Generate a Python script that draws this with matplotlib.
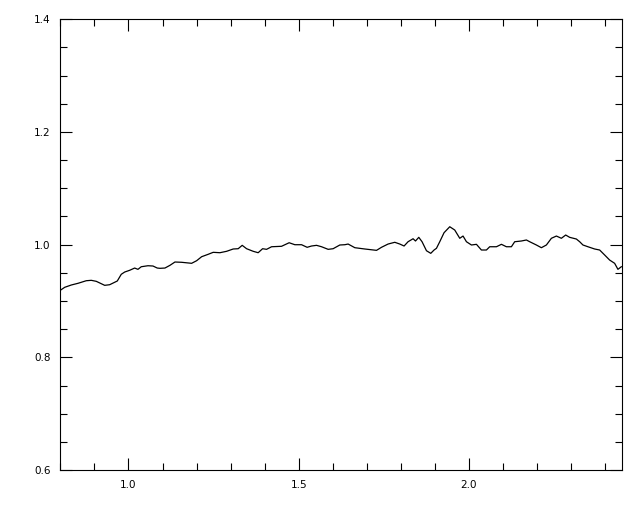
import matplotlib
matplotlib.use("Agg")
import matplotlib.pyplot as plt
from matplotlib.ticker import MultipleLocator

wavelength = [
    0.8009, 0.8126, 0.8320, 0.8517, 0.8760, 0.8907, 0.9054, 0.9301, 0.9447, 0.9671,
    0.9788, 0.9888, 1.0035, 1.0181, 1.0278, 1.0375, 1.0572, 1.0719, 1.0845, 1.0924,
    1.1071, 1.1218, 1.1365, 1.1561, 1.1855, 1.2002, 1.2149, 1.2342, 1.2489, 1.2686,
    1.2883, 1.3076, 1.3223, 1.3341, 1.3470, 1.3567, 1.3664, 1.3810, 1.3940, 1.4057,
    1.4204, 1.4497, 1.4720, 1.4888, 1.5085, 1.5249, 1.5378, 1.5525, 1.5672, 1.5866,
    1.6012, 1.6209, 1.6356, 1.6453, 1.6650, 1.6943, 1.7287, 1.7433, 1.7627, 1.7824,
    1.7971, 1.8097, 1.8214, 1.8361, 1.8432, 1.8529, 1.8625, 1.8755, 1.8881, 1.8978,
    1.9048, 1.9145, 1.9271, 1.9439, 1.9585, 1.9733, 1.9829, 1.9929, 2.0076, 2.0223,
    2.0369, 2.0516, 2.0613, 2.0810, 2.0957, 2.1103, 2.1250, 2.1347, 2.1544, 2.1691,
    2.1788, 2.1984, 2.2131, 2.2278, 2.2425, 2.2572, 2.2718, 2.2845, 2.2962, 2.3159,
    2.3256, 2.3352, 2.3499, 2.3696, 2.3843, 2.3989, 2.4136, 2.4283, 2.4380, 2.4480,
]
flux = [
    0.9195, 0.9243, 0.9284, 0.9314, 0.9360, 0.9367, 0.9349, 0.9278, 0.9289, 0.9355,
    0.9474, 0.9514, 0.9545, 0.9585, 0.9562, 0.9608, 0.9626, 0.9621, 0.9585, 0.9580,
    0.9585, 0.9633, 0.9692, 0.9687, 0.9669, 0.9715, 0.9786, 0.9829, 0.9864, 0.9857,
    0.9882, 0.9923, 0.9928, 0.9988, 0.9928, 0.9905, 0.9882, 0.9857, 0.9928, 0.9917,
    0.9963, 0.9971, 1.0034, 0.9999, 0.9999, 0.9953, 0.9976, 0.9988, 0.9963, 0.9917,
    0.9928, 0.9994, 0.9999, 1.0011, 0.9946, 0.9923, 0.9899, 0.9953, 1.0011, 1.0042,
    1.0011, 0.9976, 1.0052, 1.0105, 1.0065, 1.0130, 1.0052, 0.9892, 0.9846, 0.9905,
    0.9935, 1.0052, 1.0212, 1.0318, 1.0260, 1.0113, 1.0153, 1.0052, 0.9994, 1.0006,
    0.9905, 0.9905, 0.9963, 0.9963, 1.0006, 0.9963, 0.9963, 1.0052, 1.0065, 1.0083,
    1.0052, 0.9994, 0.9946, 0.9994, 1.0113, 1.0153, 1.0113, 1.0171, 1.0130, 1.0100,
    1.0052, 0.9994, 0.9963, 0.9923, 0.9905, 0.9817, 0.9727, 0.9669, 0.9562, 0.9608,
]
x_ticks = [1.0, 1.5, 2.0]
x_tick_labels = ["1.0", "1.5", "2.0"]
y_ticks = [0.6, 0.8, 1.0, 1.2, 1.4]
y_tick_labels = ["0.6", "0.8", "1.0", "1.2", "1.4"]

fig = plt.figure(figsize=(6.4, 5.12), dpi=100)
ax = fig.add_axes([0.0944, 0.082, 0.8775, 0.8803])
ax.plot(wavelength, flux, color="black", linewidth=0.9)
ax.set_xlim(0.8, 2.45)
ax.set_ylim(0.6, 1.4)
ax.set_xticks(x_ticks)
ax.set_xticklabels(x_tick_labels)
ax.set_yticks(y_ticks)
ax.set_yticklabels(y_tick_labels)
ax.xaxis.set_minor_locator(MultipleLocator(0.1))
ax.yaxis.set_minor_locator(MultipleLocator(0.05))
ax.tick_params(which="both", direction="in", top=True, right=True,
               width=0.8, labelsize=7.5, colors="black")
ax.tick_params(which="major", length=8.5, pad=7)
ax.tick_params(which="minor", length=5)
for s in ax.spines.values():
    s.set_linewidth(0.8)

fig.savefig("out.png", dpi=100)
